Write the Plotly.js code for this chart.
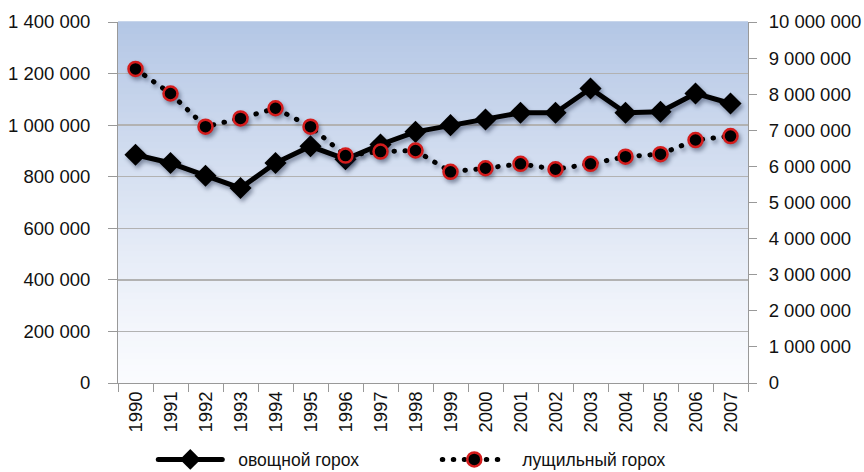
<!DOCTYPE html>
<html>
<head>
<meta charset="utf-8">
<script src="https://cdn.plot.ly/plotly-3.0.1.min.js"></script>
<style>
html,body{margin:0;padding:0;background:#fff;}
#chart{width:864px;height:472px;}
.scatterlayer .trace{filter:drop-shadow(2px 3px 2px rgba(20,30,60,0.45));}
.legend .legendtext{transform:translateX(11px);}
</style>
</head>
<body>
<div id="chart"></div>
<script>
// ---- data ----
const years = ["1990","1991","1992","1993","1994","1995","1996","1997","1998","1999","2000","2001","2002","2003","2004","2005","2006","2007"];
const vegetablePea = [885000, 853000, 804000, 756000, 853000, 918000, 868000, 925000, 974000, 1000000, 1022000, 1048000, 1048000, 1142000, 1048000, 1052000, 1123000, 1084000];
const shellingPea = [8700000, 8020000, 7100000, 7330000, 7610000, 7100000, 6300000, 6410000, 6440000, 5850000, 5950000, 6070000, 5920000, 6070000, 6270000, 6340000, 6730000, 6840000];
const seriesNames = ["овощной горох", "лущильный горох"];
const leftTicks = [0, 200000, 400000, 600000, 800000, 1000000, 1200000, 1400000];
const rightTicks = [0,1000000,2000000,3000000,4000000,5000000,6000000,7000000,8000000,9000000,10000000];

// ---- gradient background (style) ----
const bgShapes = [];
const N = 60;
const colTop = [180, 199, 229], colBot = [250, 251, 254];
for (let i = 0; i < N; i++) {
  const t = i / (N - 1); // 0 bottom .. 1 top
  const c = colBot.map((b, k) => Math.round(b + (colTop[k] - b) * Math.pow(t, 1.2)));
  bgShapes.push({type:'rect', xref:'paper', yref:'paper', x0:0, x1:1, y0:i/N, y1:(i+1)/N + 0.002,
    fillcolor:`rgb(${c[0]},${c[1]},${c[2]})`, line:{width:0}, layer:'below'});
}

const fmt = v => String(v).replace(/\B(?=(\d{3})+(?!\d))/g, ' ');

const traces = [
  {x: years, y: vegetablePea, name: seriesNames[0], type:'scatter', mode:'lines+markers',
   line:{color:'#000', width:5}, marker:{symbol:'diamond', size:17, color:'#000'}, yaxis:'y'},
  {x: years, y: shellingPea, name: seriesNames[1], type:'scatter', mode:'lines+markers',
   line:{color:'#000', width:5, dash:'0.5px,10.5px'}, marker:{symbol:'circle', size:14, color:'#000', line:{color:'#d41c1c', width:2.5}}, yaxis:'y2'}
];

const fontFam = '"Liberation Sans", Arial, Helvetica, sans-serif';
const tickFont = {size:18.5, family:fontFam, color:'#111'};
const layout = {
  width:864, height:472,
  margin:{l:118, r:116, t:22, b:89, autoexpand:false},
  paper_bgcolor:'#fff', plot_bgcolor:'rgba(0,0,0,0)',
  font:{family:fontFam, size:17, color:'#111'},
  showlegend:true,
  legend:{orientation:'h', x:0.056, xanchor:'left', y:-0.212, yanchor:'middle',
    font:{size:17.5, family:fontFam, color:'#111'}, itemwidth:64, entrywidth:205, bgcolor:'rgba(0,0,0,0)'},
  shapes: bgShapes,
  xaxis:{type:'category', tickangle:-90, tickson:'boundaries', ticks:'outside', ticklen:8,
    tickcolor:'#999', showline:true, linecolor:'#999', linewidth:1, showgrid:false, automargin:false,
    tickfont:tickFont, range:[-0.5, 17.5]},
  yaxis:{range:[0,1400000], tickvals:leftTicks, ticktext:leftTicks.map(fmt), ticks:'outside', ticklen:9,
    tickcolor:'#999', showline:true, linecolor:'#999', showgrid:true, gridcolor:'#b2b2b2', gridwidth:1.5,
    zeroline:false, tickfont:tickFont, ticklabelstandoff:14, automargin:false},
  yaxis2:{range:[0,10000000], tickvals:rightTicks, ticktext:rightTicks.map(fmt), overlaying:'y', side:'right',
    ticks:'outside', ticklen:8, tickcolor:'#999', showline:true, linecolor:'#999', showgrid:false,
    zeroline:false, tickfont:tickFont, ticklabelstandoff:8, automargin:false}
};

Plotly.newPlot('chart', traces, layout, {staticPlot:true}).then(() => {
  document.querySelectorAll('path.js-line').forEach(p => { p.style.strokeLinecap = 'round'; p.style.strokeLinejoin = 'round'; });
});
</script>
</body>
</html>
